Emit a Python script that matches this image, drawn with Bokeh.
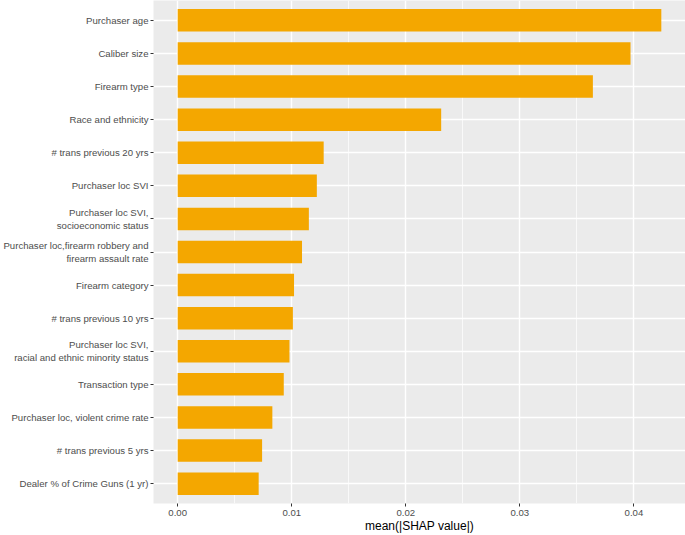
from bokeh.plotting import figure
from bokeh.models import FactorRange, Range1d, FixedTicker
from bokeh.embed import file_html
from bokeh.resources import INLINE

features = [
    "Purchaser age",
    "Caliber size",
    "Firearm type",
    "Race and ethnicity",
    "# trans previous 20 yrs",
    "Purchaser loc SVI",
    "Purchaser loc SVI,\nsocioeconomic status",
    "Purchaser loc,firearm robbery and\nfirearm assault rate",
    "Firearm category",
    "# trans previous 10 yrs",
    "Purchaser loc SVI,\nracial and ethnic minority status",
    "Transaction type",
    "Purchaser loc, violent crime rate",
    "# trans previous 5 yrs",
    "Dealer % of Crime Guns (1 yr)",
]
mean_abs_shap = [0.0424, 0.0397, 0.0364, 0.0231, 0.0128, 0.0122, 0.0115,
                 0.0109, 0.0102, 0.0101, 0.0098, 0.0093, 0.0083, 0.0074, 0.0071]
x_ticks = [0.0, 0.01, 0.02, 0.03, 0.04]
x_tick_labels = ["0.00", "0.01", "0.02", "0.03", "0.04"]
x_minor_ticks = [0.005, 0.015, 0.025, 0.035]
x_title = "mean(|SHAP value|)"

mx = max(mean_abs_shap)
FONT = "Liberation Sans"

p = figure(
    y_range=FactorRange(factors=list(reversed(features)), range_padding=0.1,
                        range_padding_units="absolute"),
    x_range=Range1d(-0.05 * mx, 1.05 * mx),
    frame_width=532, frame_height=503,
    min_border_left=152, min_border_right=0, min_border_top=0, min_border_bottom=0,
    output_backend="svg", toolbar_location=None,
    background_fill_color="#EBEBEB", border_fill_color="white",
    outline_line_color=None,
)

p.hbar(y=features, left=0, right=mean_abs_shap, height=0.68,
       fill_color="#F4A700", line_color=None)

p.xaxis.ticker = FixedTicker(ticks=x_ticks, minor_ticks=x_minor_ticks)
p.xaxis.major_label_overrides = {t: l for t, l in zip(x_ticks, x_tick_labels)}

p.xgrid.grid_line_color = "white"
p.xgrid.grid_line_width = 1.4
p.xgrid.minor_grid_line_color = "white"
p.xgrid.minor_grid_line_width = 0.7
p.ygrid.grid_line_color = "white"
p.ygrid.grid_line_width = 1.4

for ax in (p.xaxis, p.yaxis):
    ax.axis_line_color = None
    ax.major_tick_line_color = "#333333"
    ax.major_tick_line_width = 1
    ax.major_tick_out = 3
    ax.major_tick_in = 0
    ax.minor_tick_line_color = None
    ax.major_label_text_color = "#4D4D4D"
    ax.major_label_text_font = FONT
    ax.major_label_text_font_size = "9.6px"
    ax.major_label_standoff = 2

p.xaxis.major_label_standoff = 2
p.xaxis.axis_label = x_title
p.xaxis.axis_label_text_font = FONT
p.xaxis.axis_label_text_font_size = "12px"
p.xaxis.axis_label_text_font_style = "normal"
p.xaxis.axis_label_text_color = "black"
p.xaxis.axis_label_standoff = 0

open("out.html", "w").write(file_html(p, INLINE))
